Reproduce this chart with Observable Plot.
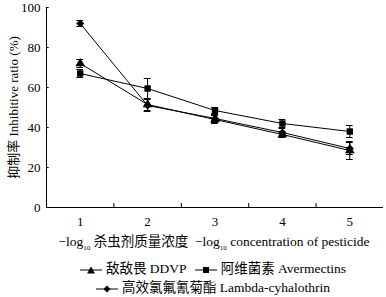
<!DOCTYPE html>
<html><head><meta charset="utf-8">
<script src="https://cdn.jsdelivr.net/npm/d3@7"></script>
<script src="https://cdn.jsdelivr.net/npm/@observablehq/plot@0.6"></script>
<style>
body{margin:0;background:#fff;font-family:"Liberation Serif","Noto Sans CJK SC",serif;color:#000}
#wrap{width:386px}
.xt{font-size:13.5px;text-align:center;padding-left:42px;margin-top:3px;line-height:17px;white-space:nowrap}
.xt sub{font-size:7px}
.lg{font-size:13.5px;text-align:center;padding-left:40px;line-height:19px;white-space:nowrap;margin-top:2px}
.lg svg{vertical-align:middle;margin-right:4px}
.it{margin:0 4px}
</style></head><body><div id="wrap"></div>
<script>
const xs = [1, 2, 3, 4, 5];
const ddvp = [72, 51.5, 44, 36.5, 28.5];
const ddvpErr = [2, 3, 2, 1.5, 4.5];
const aver = [67, 59.5, 48.5, 42, 38];
const averErr = [2, 5, 1.5, 2, 3];
const lambda = [92, 51, 44.5, 37.5, 29.5];
const lambdaErr = [1.5, 3, 2, 2, 3];
const seriesNames = ["敌敌畏 DDVP", "阿维菌素 Avermectins", "高效氯氟氰菊酯 Lambda-cyhalothrin"];
const symbols = ["triangle", "square", "diamond2"];
const yTicks = [0, 20, 40, 60, 80, 100];
const xTicks = [1, 2, 3, 4, 5];
const xTickMarks = [1.5, 2.5, 3.5, 4.5];
const yLabel = "抑制率 Inhibitive ratio (%)";

const vals = [ddvp, aver, lambda], errs = [ddvpErr, averErr, lambdaErr];
const data = [];
vals.forEach((arr, s) => arr.forEach((v, i) => data.push({s: seriesNames[s], sym: symbols[s], x: xs[i], y: v, e: errs[s][i]})));

const font = '"Liberation Serif","Noto Sans CJK SC",serif';
const chart = Plot.plot({
  width: 386, height: 230,
  marginLeft: 46, marginRight: 3, marginTop: 7, marginBottom: 23,
  style: {fontFamily: font, fontSize: "13px", color: "#000"},
  x: {domain: [0.5, 5.5]},
  y: {domain: [0, 100]},
  symbol: {domain: symbols, range: ["triangle", "square", "diamond2"]},
  marks: [
    Plot.axisY(yTicks, {tickSize: 0, tickPadding: 6, label: null, fontSize: 13, fontFamily: font}),
    Plot.axisX(xTicks, {tickSize: 0, tickPadding: 9, label: null, fontSize: 13, fontFamily: font}),
    Plot.ruleX([0.5], {stroke: "#000"}),
    Plot.ruleY([0], {stroke: "#000"}),
    Plot.ruleY(yTicks, {x1: 0.5, x2: 0.54, stroke: "#000"}),
    Plot.ruleX(xTickMarks, {y1: 0, y2: 2, stroke: "#000"}),
    Plot.text([yLabel], {frameAnchor: "left", textAnchor: "middle", rotate: -90, dx: -33, fontSize: 13, fontFamily: font}),
    Plot.ruleX(data, {x: "x", y1: d => d.y - d.e, y2: d => d.y + d.e, stroke: "#000", strokeWidth: 1}),
    Plot.ruleY(data, {x1: d => d.x - 0.05, x2: d => d.x + 0.05, y: d => d.y + d.e, stroke: "#000"}),
    Plot.ruleY(data, {x1: d => d.x - 0.05, x2: d => d.x + 0.05, y: d => d.y - d.e, stroke: "#000"}),
    Plot.line(data, {x: "x", y: "y", z: "s", stroke: "#000", strokeWidth: 1}),
    Plot.dot(data, {x: "x", y: "y", symbol: "sym", fill: "#000", stroke: "none", r: 3.6})
  ]
});
const wrap = document.getElementById("wrap");
wrap.appendChild(chart);

const xt = document.createElement("div");
xt.className = "xt";
xt.innerHTML = "−log<sub>10</sub> 杀虫剂质量浓度&nbsp; −log<sub>10</sub> concentration of pesticide";
wrap.appendChild(xt);

function sw(sym) {
  let shape;
  if (sym === "triangle") shape = '<path d="M11,1.5L15,8.5H7Z" fill="#000"/>';
  else if (sym === "square") shape = '<rect x="8" y="2" width="6" height="6" fill="#000"/>';
  else shape = '<path d="M11,1.5L14.5,5L11,8.5L7.5,5Z" fill="#000"/>';
  return `<svg width="22" height="10"><line x1="0" x2="22" y1="5" y2="5" stroke="#000"/>${shape}</svg>`;
}
const lg = document.createElement("div");
lg.className = "lg";
lg.innerHTML = `<div><span class="it">${sw(symbols[0])}${seriesNames[0]}</span><span class="it">${sw(symbols[1])}${seriesNames[1]}</span></div>` +
  `<div><span class="it">${sw(symbols[2])}${seriesNames[2]}</span></div>`;
wrap.appendChild(lg);
</script></body></html>
